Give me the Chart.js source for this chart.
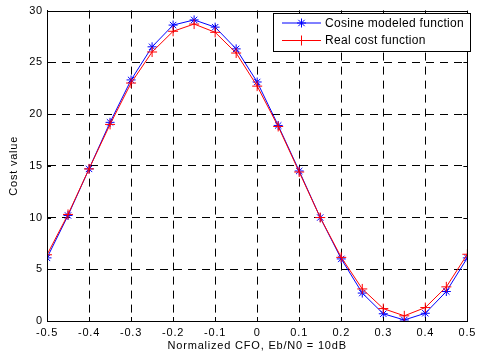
<!DOCTYPE html>
<html><head><meta charset="utf-8">
<script src="https://cdn.jsdelivr.net/npm/chart.js@4/dist/chart.umd.min.js"></script>
<style>html,body{margin:0;padding:0;background:#fff;}canvas{display:block;}</style>
</head><body>
<canvas id="c" width="480" height="356"></canvas>
<script>
const cfo = [-0.5,-0.45,-0.4,-0.35,-0.3,-0.25,-0.2,-0.15,-0.1,-0.05,0,0.05,0.1,0.15,0.2,0.25,0.3,0.35,0.4,0.45,0.5];
const cosineModeled = [6.1,10.2,14.7,19.2,23.3,26.5,28.6,29.1,28.4,26.3,23.1,18.9,14.5,10.0,6.0,2.7,0.7,0.1,0.75,2.85,6.1];
const realCost = [6.4,10.3,14.7,19.0,23.0,26.0,28.0,28.7,27.9,25.9,22.7,18.8,14.4,10.0,6.15,3.1,1.2,0.5,1.3,3.3,6.45];
const xTicks = [-0.5,-0.4,-0.3,-0.2,-0.1,0,0.1,0.2,0.3,0.4,0.5];
const xTickLabels = ['-0.5','-0.4','-0.3','-0.2','-0.1','0','0.1','0.2','0.3','0.4','0.5'];
const yTicks = [0,5,10,15,20,25,30];
const yTickLabels = ['0','5','10','15','20','25','30'];
const seriesNames = ['Cosine modeled function','Real cost function'];
const xTitle = 'Normalized CFO, Eb/N0 = 10dB';
const yTitle = 'Cost value';

const FONT = 'Liberation Sans, Arial, Helvetica, sans-serif';

const spacingPlugin = {
  id: 'spacing',
  beforeDraw(chart) { chart.ctx.letterSpacing = '0.8px'; }
};

const framePlugin = {
  id: 'frame',
  afterDraw(chart) {
    const {ctx, chartArea: a, scales} = chart;
    ctx.save();
    ctx.strokeStyle = '#000';
    ctx.lineWidth = 1;
    ctx.setLineDash([]);
    // inward ticks
    ctx.beginPath();
    xTicks.forEach(v => {
      const px = Math.round(scales.x.getPixelForValue(v)) + 0.5;
      ctx.moveTo(px, a.bottom); ctx.lineTo(px, a.bottom - 4);
      ctx.moveTo(px, a.top); ctx.lineTo(px, a.top + 4);
    });
    yTicks.forEach(v => {
      const py = Math.round(scales.y.getPixelForValue(v)) + 0.5;
      ctx.moveTo(a.left, py); ctx.lineTo(a.left + 4, py);
      ctx.moveTo(a.right, py); ctx.lineTo(a.right - 4, py);
    });
    ctx.stroke();
    ctx.strokeRect(Math.round(a.left) + 0.5, Math.round(a.top) + 0.5, Math.round(a.right - a.left), Math.round(a.bottom - a.top));
    // legend
    const lx = 273.5, ly = 13.5, lw = 197, lh = 38;
    ctx.fillStyle = '#fff';
    ctx.fillRect(lx, ly, lw, lh);
    ctx.strokeRect(lx, ly, lw, lh);
    ctx.font = '12px ' + FONT;
    ctx.letterSpacing = '0.3px';
    ctx.textBaseline = 'middle';
    ctx.textAlign = 'left';
    const rows = [23, 40.5];
    chart.data.datasets.forEach((ds, i) => {
      const y = rows[i];
      ctx.strokeStyle = ds.borderColor;
      ctx.lineWidth = 1;
      ctx.beginPath();
      ctx.moveTo(282, y); ctx.lineTo(321, y);
      ctx.stroke();
      Chart.helpers.drawPoint(ctx, {pointStyle: ds.pointStyle, radius: ds.pointRadius, borderWidth: 1, rotation: 0}, 301.5, y);
      ctx.fillStyle = '#000';
      ctx.fillText(ds.label, 325, y + 0.5);
    });
    ctx.restore();
  }
};

new Chart(document.getElementById('c'), {
  type: 'line',
  data: {
    datasets: [
      {
        label: seriesNames[0],
        data: cfo.map((x, i) => ({x, y: cosineModeled[i]})),
        borderColor: '#0000ff', backgroundColor: '#0000ff',
        borderWidth: 1, pointStyle: 'star', pointRadius: 4.5, pointBorderWidth: 1,
        pointBorderColor: '#0000ff', tension: 0, fill: false, order: 2
      },
      {
        label: seriesNames[1],
        data: cfo.map((x, i) => ({x, y: realCost[i]})),
        borderColor: '#ff0000', backgroundColor: '#ff0000',
        borderWidth: 1, pointStyle: 'cross', pointRadius: 5, pointBorderWidth: 1,
        pointBorderColor: '#ff0000', tension: 0, fill: false, order: 1
      }
    ]
  },
  options: {
    responsive: false,
    animation: false,
    devicePixelRatio: 1,
    layout: {padding: {left: 0, top: 10, right: 9, bottom: 0}},
    plugins: {legend: {display: false}, tooltip: {enabled: false}},
    scales: {
      x: {
        type: 'linear', min: -0.5, max: 0.5,
        afterBuildTicks: s => { s.ticks = xTicks.map(v => ({value: v})); },
        afterFit: s => { s.height = 35; },
        ticks: {
          color: '#000', font: {family: FONT, size: 11}, padding: 5, maxRotation: 0, autoSkip: false,
          callback: (v, i) => xTickLabels[i]
        },
        grid: {
          color: ctx => (ctx.tick && (ctx.tick.value === -0.5 || ctx.tick.value === 0.5)) ? 'rgba(0,0,0,0)' : '#000',
          lineWidth: 1, drawTicks: false, tickLength: 0
        },
        border: {display: true, color: '#000', dash: [8, 6]},
        title: {display: true, text: xTitle, color: '#000', font: {family: FONT, size: 11}, padding: {top: 0, bottom: 3}}
      },
      y: {
        type: 'linear', min: 0, max: 30,
        afterBuildTicks: s => { s.ticks = yTicks.map(v => ({value: v})); },
        afterFit: s => { s.width = 47; },
        ticks: {
          color: '#000', font: {family: FONT, size: 11}, padding: 4,
          callback: (v, i) => yTickLabels[i]
        },
        grid: {
          color: ctx => (ctx.tick && (ctx.tick.value === 0 || ctx.tick.value === 30)) ? 'rgba(0,0,0,0)' : '#000',
          lineWidth: 1, drawTicks: false, tickLength: 0
        },
        border: {display: true, color: '#000', dash: [8, 6]},
        title: {display: true, text: yTitle, color: '#000', font: {family: FONT, size: 11}, padding: {top: 7, bottom: 0}}
      }
    }
  },
  plugins: [spacingPlugin, framePlugin]
});
</script>
</body></html>
